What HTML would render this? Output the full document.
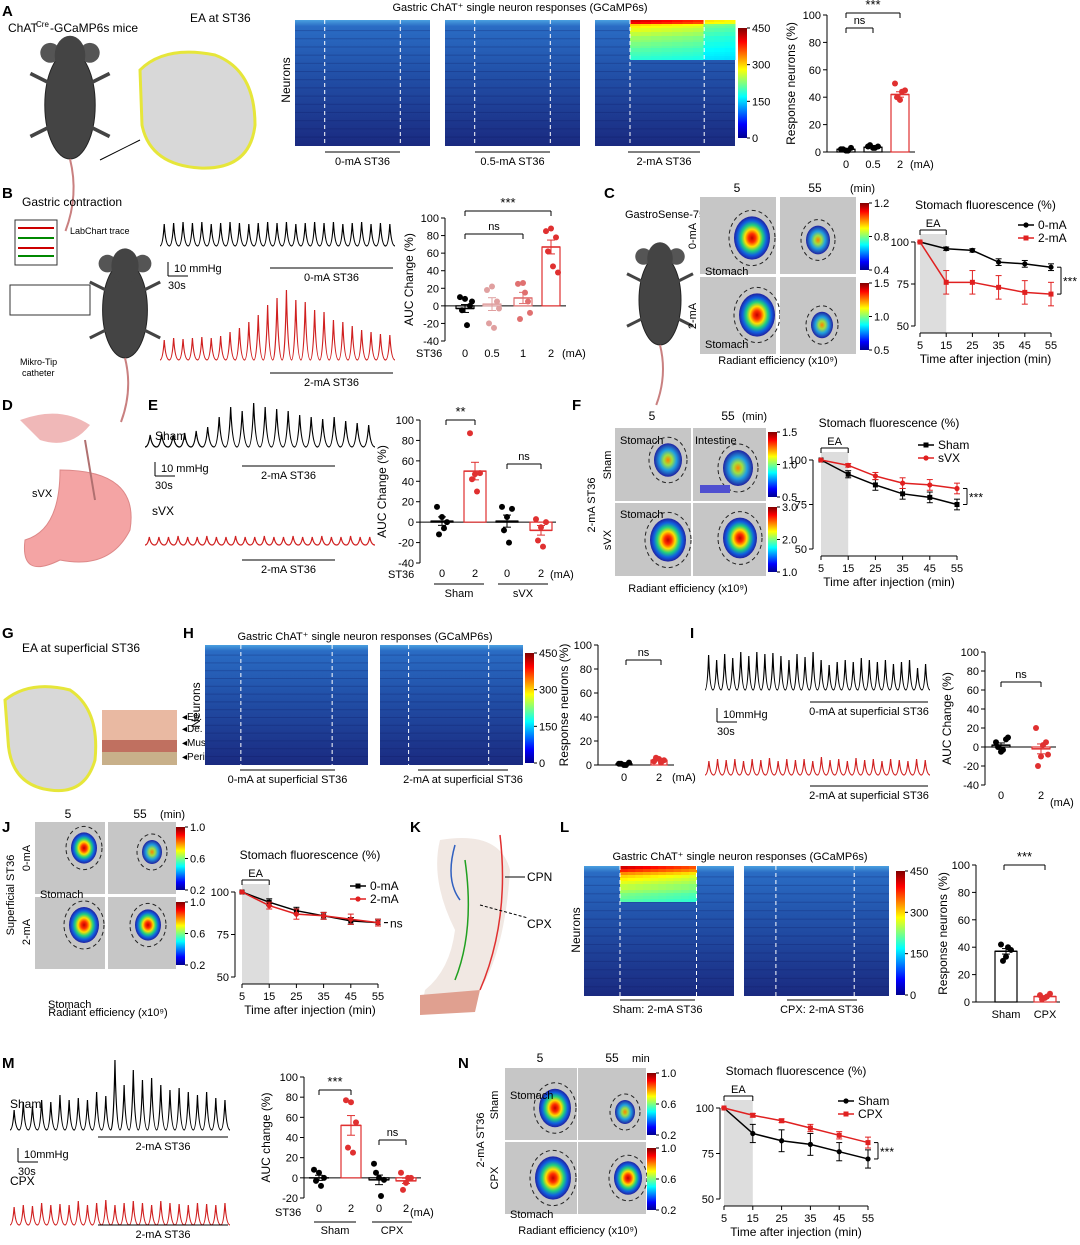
<!DOCTYPE html>
<html><head><meta charset="utf-8">
<style>
html,body{margin:0;padding:0;background:#fff;}
svg{display:block;font-family:"Liberation Sans",sans-serif;}
</style></head>
<body>
<svg id="fig" width="1080" height="1245" viewBox="0 0 1080 1245" xmlns="http://www.w3.org/2000/svg">
<defs>
<linearGradient id="hg" x1="0" y1="0" x2="0" y2="1">
<stop offset="0" stop-color="#4aa0e0"/><stop offset="0.05" stop-color="#2a6cc4"/><stop offset="0.4" stop-color="#2252aa"/><stop offset="1" stop-color="#1a2a80"/>
</linearGradient>
<linearGradient id="cb" x1="0" y1="1" x2="0" y2="0">
<stop offset="0" stop-color="#00008f"/><stop offset="0.125" stop-color="#0000ff"/><stop offset="0.375" stop-color="#00ffff"/><stop offset="0.625" stop-color="#ffff00"/><stop offset="0.875" stop-color="#ff0000"/><stop offset="1" stop-color="#800000"/>
</linearGradient>
<radialGradient id="blob">
<stop offset="0" stop-color="#c00000"/><stop offset="0.2" stop-color="#ff3000"/><stop offset="0.4" stop-color="#ffe000"/><stop offset="0.6" stop-color="#20d080"/><stop offset="0.8" stop-color="#1060e0"/><stop offset="1" stop-color="#2020a0"/>
</radialGradient>
<radialGradient id="blobs">
<stop offset="0" stop-color="#ff8000"/><stop offset="0.3" stop-color="#a0e040"/><stop offset="0.6" stop-color="#20a0e0"/><stop offset="1" stop-color="#2020a0"/>
</radialGradient>
</defs>
</svg>
<script>
// ===== DATA =====
const aCats=['0','0.5','2'];
const aMeans=[2,3.5,42];
const aPts=[[2,1,3,2,1],[4,3,4,5,3],[50,38,45,40,44]];
const bCats=['0','0.5','1','2'];
const bMeans=[-3,2,9,67];
const bPts=[[10,8,0,-5,-22,5],[18,22,5,-20,-25,-3],[25,26,5,-15,15,-8],[85,88,78,62,45,38]];
const cTimes=[5,15,25,35,45,55];
const c0mA=[100,96,95,88,87,85];
const c0err=[0,1,1,2,2,2];
const c2mA=[100,76,76,73,70,69];
const c2err=[0,7,7,7,7,7];
const eCats=['0','2','0','2'];
const eMeans=[1,50,1,-8];
const ePts=[[15,5,0,-12,-6],[87,47,48,42,30],[15,5,13,-8,-20],[3,-5,0,-18,-24]];
const fSham=[100,92,86,81,79,75];
const fShamErr=[0,2,3,3,3,3];
const fSvx=[100,97,91,87,86,84];
const fSvxErr=[0,1,2,3,3,3];
const hCats=['0','2'];
const hMeans=[1,4];
const hPts=[[1,0,2,1,0],[3,5,4,6,2]];
const iCats=['0','2'];
const iMeans=[2,-2];
const iPts=[[5,-5,8,0,-3,10],[20,-10,5,-20,2,-8]];
const jA=[100,94,89,86,83,82];
const jAerr=[0,2,2,2,2,2];
const jB=[100,92,87,86,84,82];
const jBerr=[0,2,3,2,3,2];
const lCats=['Sham','CPX'];
const lMeans=[37,4];
const lPts=[[42,33,38,30,40],[5,3,6,2,4]];
const mCats=['0','2','0','2'];
const mMeans=[0,52,-2,-3];
const mPts=[[8,5,0,-3,-8],[77,75,55,30,25],[14,0,-2,5,-18],[5,-5,0,-12,0]];
const nSham=[100,86,82,80,76,72];
const nShamErr=[0,5,6,6,5,5];
const nCpx=[100,96,93,89,85,81];
const nCpxErr=[0,1,1,2,2,3];
const actA=[0.95,0.9,0.6,0.55,0.5,0.5,0.45,0.45,0.4,0.4,0.38,0.35,0.35,0.33,0.3,0.3,0.28,0.27,0.25,0.24];
const actL=[0.95,0.85,0.7,0.6,0.55,0.5,0.45,0.45,0.4,0.35,0.33,0.3];
const trB1=[22,23,24,23,24,22,23,24,23,22,23,24,23,24,22,23,24,23,24,22,23,24,22,23,22];
const trB2=[20,22,21,22,23,22,24,28,32,38,45,55,62,70,60,58,50,48,40,38,34,30,28,26,25];
const trE1=[12,13,12,14,16,20,30,40,36,44,40,38,36,32,30,28,30,26,24,22];
const trE2=[8,8,8,9,8,8,9,8,8,9,8,8,9,8,8,9,8,8,9,8,8,9,8,8];
const trI1=[35,30,36,32,38,34,38,36,37,34,30,36,33,38,30,25,28,30,28,32,30,28,30,26,28,30,22,26];
const trI2=[14,16,15,16,14,16,15,17,14,16,15,16,14,18,15,16,14,17,15,16,14,16,15,14,16,15];
const trM1=[20,28,24,30,28,35,30,32,30,38,34,70,45,60,50,52,45,40,42,38,35,38,32,30];
const trM2=[18,20,19,22,20,21,20,24,20,22,25,20,22,24,22,20,24,22,21,20,22,21,20,22];

// ===== HELPERS =====
const NS='http://www.w3.org/2000/svg';
const S=document.getElementById('fig');
function E(tag,a,name,parent){
 const el=document.createElementNS(NS,tag);
 for(const k in a) el.setAttribute(k,a[k]);
 
 
 (parent||S).appendChild(el);return el;}
function T(x,y,s,o){o=o||{};
 const el=E('text',{x:x,y:y,'font-size':o.size||11,'text-anchor':o.anchor||'start','font-weight':o.bold?'bold':'normal',fill:o.fill||'#000',transform:o.rot?`rotate(${o.rot} ${x} ${y})`:''},o.name||'label');
 el.textContent=s;return el;}
function L(x1,y1,x2,y2,o){o=o||{};return E('line',{x1:x1,y1:y1,x2:x2,y2:y2,stroke:o.c||'#000','stroke-width':o.w||1,'stroke-dasharray':o.dash||''},o.name||'line');}
function R(x,y,w,h,f,o){o=o||{};return E('rect',{x:x,y:y,width:w,height:h,fill:f,stroke:o.s||'none','stroke-width':o.w||1,rx:o.rx||0},o.name||'rect');}
function jet(t){t=Math.max(0,Math.min(1,t));
 const r=Math.min(1,Math.max(0,1.5-Math.abs(4*t-3))),g=Math.min(1,Math.max(0,1.5-Math.abs(4*t-2))),b=Math.min(1,Math.max(0,1.5-Math.abs(4*t-1)));
 return `rgb(${r*255|0},${g*255|0},${b*255|0})`;}

function heat(x,y,w,h,act,s0,s1,name,fade,rh){
 R(x,y,w,h,'url(#hg)',{name:name});
 for(let i=0;i<14;i++) R(x,y+h*(0.08+i*0.065),w,1,'rgba(10,20,90,0.25)',{name:'heatmap-row'});
 if(act){rh=rh||3;
  act.forEach((v,i)=>{const x0=x+w*s0,x1=x+w*(fade?s1:1);
   const seg=10;for(let k=0;k<seg;k++){let vv=v*(fade?1:(k<7?1:0.7))*(1-k*0.02);
    R(x0+(x1-x0)*k/seg,y+i*rh,(x1-x0)/seg+0.5,rh,jet(0.25+vv*0.7),{name:'heatmap-cell'});}});}
 L(x+w*s0,y,x+w*s0,y+h,{c:'#fff',dash:'4,3',name:'stim-onset-line'});
 L(x+w*s1,y,x+w*s1,y+h,{c:'#fff',dash:'4,3',name:'stim-offset-line'});
}
function cbar(x,y,h,labels,name){R(x,y,9,h,'url(#cb)',{name:name});
 labels.forEach((l,i)=>{const yy=y+h*i/(labels.length-1);L(x+9,yy,x+12,yy,{name:'colorbar-tick'});T(x+14,yy+4,l,{size:11,name:'colorbar-label'});});}

function barChart(c){
 const ys=v=>c.yBot-(v-c.min)/(c.max-c.min)*(c.yBot-c.yTop);
 L(c.x,c.yTop,c.x,c.yBot,{name:'y-axis'});
 c.ticks.forEach(t=>{L(c.x-4,ys(t),c.x,ys(t),{name:'y-tick'});T(c.x-6,ys(t)+4,String(t),{size:11,anchor:'end',name:'y-tick-label'});});
 const z=ys(Math.max(0,c.min));
 L(c.x,z,c.x+c.xs[c.xs.length-1]+15,z,{name:'x-axis'});
 T(c.x-c.ylabOff,(c.yTop+c.yBot)/2,c.ylab,{size:12,anchor:'middle',rot:-90,name:'y-axis-title'});
 c.means.forEach((m,i)=>{const cx=c.x+c.xs[i],bw=c.bw||16;const col=c.colors[i];
  const y1=Math.min(ys(m),z),hh=Math.abs(ys(m)-z);
  R(cx-bw/2,y1,bw,hh,'#fff',{s:col,w:1.2,name:'bar-'+i});
  const pts=c.pts[i];const sd=Math.sqrt(pts.reduce((a,p)=>a+(p-m)*(p-m),0)/pts.length)/Math.sqrt(pts.length);
  L(cx,ys(m+sd),cx,ys(m-sd),{c:col,name:'error-bar'});L(cx-4,ys(m+sd),cx+4,ys(m+sd),{c:col,name:'error-cap'});L(cx-4,ys(m-sd),cx+4,ys(m-sd),{c:col,name:'error-cap'});
  L(cx-bw/2,ys(m),cx+bw/2,ys(m),{c:col,w:1.5,name:'mean-line'});
  pts.forEach((p,k)=>{const off=((k%3)-1)*5+(k>2?2:0);E('circle',{cx:cx+off,cy:ys(p),r:3,fill:col},'data-point');});
  T(cx,ys(c.min)+(c.catOff||16),c.cats[i],{size:11,anchor:'middle',name:'x-tick-label'});
 });
 return ys;}

function lineChart(c){
 const xs=t=>c.xL+(t-5)/50*(c.xR-c.xL),ys=v=>c.yBot-(v-50)/50*(c.yBot-c.yTop);
 const xa=c.yBot+7;
 R(xs(5),ys(100)-8,xs(15)-xs(5),xa-ys(100)+8,'#ddd',{name:'ea-shading'});
 L(c.ax,ys(100),c.ax,c.yBot,{name:'y-axis'});L(xs(5),xa,c.xR,xa,{name:'x-axis'});
 [50,75,100].forEach(t=>{L(c.ax-4,ys(t),c.ax,ys(t),{name:'y-tick'});T(c.ax-6,ys(t)+4,String(t),{size:11,anchor:'end',name:'y-tick-label'});});
 cTimes.forEach(t=>{L(xs(t),xa,xs(t),xa+4,{name:'x-tick'});T(xs(t),xa+16,String(t),{size:11,anchor:'middle',name:'x-tick-label'});});
 T((c.xL+c.xR)/2,xa+30,'Time after injection (min)',{size:12,anchor:'middle',name:'x-axis-title'});
 T((c.xL+c.xR)/2,c.yTop-33,c.title,{size:12,anchor:'middle',name:'chart-title'});
 const by=ys(100)-12;
 L(xs(5),by,xs(15),by,{name:'ea-bracket'});L(xs(5),by,xs(5),by+5,{name:'ea-bracket'});L(xs(15),by,xs(15),by+5,{name:'ea-bracket'});
 T((xs(5)+xs(15))/2,by-3,'EA',{size:11,anchor:'middle',name:'ea-label'});
 c.series.forEach((s,si)=>{
  E('polyline',{points:s.v.map((v,i)=>xs(cTimes[i])+','+ys(v)).join(' '),fill:'none',stroke:s.c,'stroke-width':1.5},'series-line-'+si);
  s.v.forEach((v,i)=>{const x=xs(cTimes[i]);L(x,ys(v+s.e[i]),x,ys(v-s.e[i]),{c:s.c,name:'error-bar'});L(x-3,ys(v+s.e[i]),x+3,ys(v+s.e[i]),{c:s.c,name:'error-cap'});L(x-3,ys(v-s.e[i]),x+3,ys(v-s.e[i]),{c:s.c,name:'error-cap'});
   if(s.sq)R(x-2.5,ys(v)-2.5,5,5,s.c,{name:'data-point'});else E('circle',{cx:x,cy:ys(v),r:2.6,fill:s.c},'data-point');});
  const lx=c.legX,ly=c.legY+si*13;L(lx,ly,lx+16,ly,{c:s.c,w:1.5,name:'legend-line'});
  if(s.sq)R(lx+5.5,ly-2.5,5,5,s.c,{name:'legend-marker'});else E('circle',{cx:lx+8,cy:ly,r:2.6,fill:s.c},'legend-marker');
  T(lx+20,ly+4,s.n,{size:12,name:'legend-entry'});
 });
 if(c.sig){const a=ys(c.series[0].v[5]),b=ys(c.series[1].v[5]);const x=c.xR+6;
  L(x,a,x+4,a,{name:'sig-bracket'});L(x+4,a,x+4,b,{name:'sig-bracket'});L(x,b,x+4,b,{name:'sig-bracket'});
  T(x+6,(a+b)/2+5,c.sig,{size:12,name:'significance-label'});}
 return {xs,ys};}

function trace(x,y,w,amps,col,name){let d='';const n=amps.length,p=w/n;
 amps.forEach((a,i)=>{const x0=x+i*p;d+=(i?'L':'M')+x0+','+y+' Q'+(x0+p*0.3)+','+y+' '+(x0+p*0.45)+','+(y-a)+' Q'+(x0+p*0.6)+','+y+' '+(x0+p)+','+y+' ';});
 E('path',{d:d,fill:'none',stroke:col,'stroke-width':1.2},name);}
function stimBar(x1,x2,y,label){L(x1,y,x2,y,{name:'stim-bar'});T((x1+x2)/2,y+13,label,{size:11,anchor:'middle',name:'stim-label'});}
function scaleBar(x,y,lab1,lab2){L(x,y,x,y-14,{name:'scale-bar-v'});L(x,y,x+20,y,{name:'scale-bar-h'});T(x+6,y-4,lab1,{size:11,name:'scale-label'});T(x,y+13,lab2,{size:11,name:'scale-label'});}
function sig(x1,x2,y,txt){L(x1,y,x2,y,{name:'sig-bracket'});L(x1,y,x1,y+5,{name:'sig-bracket'});L(x2,y,x2,y+5,{name:'sig-bracket'});T((x1+x2)/2,y-4,txt,{size:txt==='ns'?11:13,anchor:'middle',name:'significance-label'});}
function mouse(cx,cy,s,name){
 E('ellipse',{cx:cx,cy:cy,rx:28*s,ry:60*s,fill:'#444',stroke:'#222'},name);
 E('circle',{cx:cx-22*s,cy:cy-58*s,r:11*s,fill:'#555'},'mouse-ear');E('circle',{cx:cx+22*s,cy:cy-58*s,r:11*s,fill:'#555'},'mouse-ear');
 E('ellipse',{cx:cx,cy:cy-55*s,rx:17*s,ry:22*s,fill:'#444'},'mouse-head');
 E('path',{d:`M${cx},${cy+60*s} q${10*s},${40*s} ${-5*s},${80*s}`,stroke:'#c98080','stroke-width':2,fill:'none'},'mouse-tail');
 [[-1,-1],[1,-1],[-1,1],[1,1]].forEach(([a,b])=>L(cx+a*24*s,cy+b*25*s,cx+a*44*s,cy+b*35*s,{c:'#444',w:4*s,name:'mouse-limb'}));}
function img(x,y,w,h,bx,by,r,g,name){R(x,y,w,h,'#bdbdbd',{name:name});R(x,y,w,h,'rgba(255,255,255,0.15)',{name:'image-overlay'});
 E('ellipse',{cx:bx,cy:by,rx:r,ry:r*1.2,fill:'url(#'+(g||'blob')+')'},'fluorescence-signal');
 E('ellipse',{cx:bx,cy:by,rx:r+5,ry:r*1.2+6,fill:'none',stroke:'#222','stroke-dasharray':'4,3'},'roi-outline');}
function P(x,y,l){T(x,y,l,{size:15,bold:true,name:'panel-label-'+l});}

// ===== PANEL A =====
P(2,16,'A');T(8,32,'ChAT',{size:12,name:'mouse-label'});T(36,27,'Cre',{size:8,name:'mouse-label-sup'});T(50,32,'-GCaMP6s mice',{size:12,name:'mouse-label'});
mouse(70,105,0.9,'mouse-illustration-a');
E('path',{d:'M140,70 Q165,45 215,55 Q255,70 255,125 Q250,170 200,168 Q150,165 142,125 Z',fill:'#d8d8d8',stroke:'#e6e63a','stroke-width':3},'leg-diagram-a');
T(190,22,'EA at ST36',{size:12,name:'ea-label'});L(100,160,140,140,{name:'arrow'});
T(520,11,'Gastric ChAT⁺ single neuron responses (GCaMP6s)',{size:11,anchor:'middle',name:'heatmap-title'});
heat(295,20,135,126,null,0.22,0.78,'heatmap-0ma');heat(445,20,135,126,null,0.22,0.78,'heatmap-05ma');heat(595,20,140,126,actA,0.25,0.78,'heatmap-2ma',false,2);
T(290,80,'Neurons',{size:12,anchor:'middle',rot:-90,name:'heatmap-y-label'});
stimBar(325,400,152,'0-mA ST36');stimBar(475,550,152,'0.5-mA ST36');stimBar(628,700,152,'2-mA ST36');
cbar(738,28,110,['450','300','150','0'],'colorbar-a');
barChart({x:827,yTop:15,yBot:152,min:0,max:100,ticks:[0,20,40,60,80,100],xs:[19,46,73],means:aMeans,pts:aPts,cats:aCats,colors:['#000','#000','#e03030'],ylab:'Response neurons (%)',ylabOff:32,bw:18});
T(910,168,'(mA)',{size:11,name:'unit-label'});sig(846,873,28,'ns');sig(846,900,13,'***');

// ===== PANEL B =====
P(2,198,'B');T(22,206,'Gastric contraction',{size:12,name:'setup-label'});
R(15,220,42,45,'#fff',{s:'#333',name:'monitor'});[228,238,248,256].forEach((y,i)=>L(18,y,54,y,{c:['#c00','#080','#c00','#080'][i],w:2,name:'monitor-trace'}));
T(70,234,'LabChart trace',{size:9,name:'labchart-label'});R(10,285,80,30,'#fff',{s:'#333',name:'amplifier'});
mouse(125,310,0.8,'mouse-illustration-b');T(20,365,'Mikro-Tip',{size:9,name:'catheter-label'});T(22,376,'catheter',{size:9,name:'catheter-label'});
trace(160,246,235,trB1,'#000','trace-0ma');stimBar(270,393,268,'0-mA ST36');
scaleBar(168,276,'10 mmHg','30s');
trace(160,360,235,trB2,'#d02020','trace-2ma');stimBar(270,393,373,'2-mA ST36');
barChart({x:445,yTop:218,yBot:341,min:-40,max:100,ticks:[-40,-20,0,20,40,60,80,100],xs:[20,47,78,106],means:bMeans,pts:bPts,cats:bCats,colors:['#000','#e0a0a0','#e07070','#e03030'],ylab:'AUC Change (%)',ylabOff:32,bw:18,catOff:16});
T(416,357,'ST36',{size:11,name:'st36-label'});T(562,357,'(mA)',{size:11,name:'unit-label'});sig(465,523,234,'ns');sig(465,551,211,'***');

// ===== PANEL C =====
P(604,198,'C');T(625,218,'GastroSense-750',{size:11,name:'probe-label'});
mouse(660,300,0.75,'mouse-illustration-c');
T(737,192,'5',{size:12,anchor:'middle',name:'time-label'});T(815,192,'55',{size:12,anchor:'middle',name:'time-label'});T(850,192,'(min)',{size:11,name:'unit-label'});
img(700,197,76,77,752,238,18,'blob','image-0ma-5');img(780,197,76,77,818,240,12,'blobs','image-0ma-55');
img(700,277,76,77,757,315,18,'blob','image-2ma-5');img(780,277,76,77,822,325,11,'blobs','image-2ma-55');
T(696,236,'0-mA',{size:11,anchor:'middle',rot:-90,name:'row-label'});T(696,316,'2-mA',{size:11,anchor:'middle',rot:-90,name:'row-label'});
T(705,275,'Stomach',{size:11,name:'stomach-label'});T(705,348,'Stomach',{size:11,name:'stomach-label'});
cbar(860,203,67,['1.2','0.8','0.4'],'colorbar-c1');cbar(860,283,67,['1.5','1.0','0.5'],'colorbar-c2');
T(778,364,'Radiant efficiency (x10⁹)',{size:11,anchor:'middle',name:'radiant-label'});
lineChart({ax:915,xL:920,xR:1051,yTop:242,yBot:326,title:'Stomach fluorescence (%)',series:[{v:c0mA,e:c0err,c:'#000',n:'0-mA'},{v:c2mA,e:c2err,c:'#e02020',n:'2-mA',sq:true}],legX:1018,legY:225,sig:'***'});

// ===== PANEL D/E =====
P(2,410,'D');
E('path',{d:'M20,420 Q60,405 90,425 Q70,450 40,440 Z',fill:'#f0b8b8'},'brain');
E('path',{d:'M60,470 Q140,470 130,530 Q110,570 60,560 Q20,580 25,540 Q60,530 60,470 Z',fill:'#f4a4a4',stroke:'#d88'},'stomach');
L(85,440,95,500,{c:'#b07070',w:2,name:'vagus-nerve'});T(32,497,'sVX',{size:11,name:'svx-label'});
P(148,410,'E');T(155,440,'Sham',{size:12,name:'sham-label'});trace(145,447,230,trE1,'#000','trace-sham');stimBar(242,335,466,'2-mA ST36');
scaleBar(155,476,'10 mmHg','30s');T(152,515,'sVX',{size:12,name:'svx-trace-label'});trace(145,545,230,trE2,'#d02020','trace-svx');stimBar(242,335,560,'2-mA ST36');
barChart({x:420,yTop:420,yBot:563,min:-40,max:100,ticks:[-40,-20,0,20,40,60,80,100],xs:[22,55,87,121],means:eMeans,pts:ePts,cats:eCats,colors:['#000','#e03030','#000','#e03030'],ylab:'AUC Change (%)',ylabOff:34,bw:22,catOff:14});
T(388,578,'ST36',{size:11,name:'st36-label'});T(550,578,'(mA)',{size:11,name:'unit-label'});
L(434,584,484,584,{name:'group-line'});T(459,597,'Sham',{size:11,anchor:'middle',name:'group-label'});L(498,584,548,584,{name:'group-line'});T(523,597,'sVX',{size:11,anchor:'middle',name:'group-label'});
sig(446,475,420,'**');sig(507,541,464,'ns');

// ===== PANEL F =====
P(572,410,'F');T(652,420,'5',{size:12,anchor:'middle',name:'time-label'});T(728,420,'55',{size:12,anchor:'middle',name:'time-label'});T(742,420,'(min)',{size:11,name:'unit-label'});
img(615,428,76,73,668,460,14,'blobs','image-sham-5');img(693,428,73,73,738,468,15,'blobs','image-sham-55');
R(700,485,30,8,'#5050d0',{name:'intestine-signal'});
img(615,503,76,73,668,540,18,'blob','image-svx-5');img(693,503,73,73,740,538,17,'blob','image-svx-55');
T(620,444,'Stomach',{size:11,name:'stomach-label'});T(695,444,'Intestine',{size:11,name:'intestine-label'});T(620,518,'Stomach',{size:11,name:'stomach-label'});
T(611,465,'Sham',{size:11,anchor:'middle',rot:-90,name:'row-label'});T(611,540,'sVX',{size:11,anchor:'middle',rot:-90,name:'row-label'});
T(595,505,'2-mA ST36',{size:11,anchor:'middle',rot:-90,name:'group-label'});
cbar(768,432,65,['1.5','1.0','0.5'],'colorbar-f1');cbar(768,507,65,['3.0','2.0','1.0'],'colorbar-f2');
T(688,592,'Radiant efficiency (x10⁹)',{size:11,anchor:'middle',name:'radiant-label'});
lineChart({ax:813,xL:821,xR:957,yTop:460,yBot:549,title:'Stomach fluorescence (%)',series:[{v:fSham,e:fShamErr,c:'#000',n:'Sham',sq:true},{v:fSvx,e:fSvxErr,c:'#e02020',n:'sVX'}],legX:918,legY:445,sig:'***'});

// ===== PANEL G/H =====
P(2,638,'G');T(22,652,'EA at superficial ST36',{size:12,name:'ea-label'});
E('path',{d:'M5,700 Q30,680 70,690 Q100,710 95,760 Q85,795 50,790 Q10,785 8,740 Z',fill:'#d8d8d8',stroke:'#e6e63a','stroke-width':3},'leg-diagram-g');
R(102,710,75,55,'#e9b9a2',{name:'skin-diagram'});R(102,740,75,12,'#c07060',{name:'muscle-layer'});R(102,752,75,13,'#c8b08a',{name:'periosteum-layer'});
[['Ep.',720],['De.',732],['Mus.',746],['Perios.',760]].forEach(a=>T(182,a[1],'◂'+a[0],{size:10,name:'layer-label'}));
P(183,638,'H');T(365,640,'Gastric ChAT⁺ single neuron responses (GCaMP6s)',{size:11,anchor:'middle',name:'heatmap-title'});
heat(205,645,163,120,null,0.22,0.78,'heatmap-0ma-sup');heat(380,645,143,120,null,0.2,0.76,'heatmap-2ma-sup');
T(200,705,'Neurons',{size:12,anchor:'middle',rot:-90,name:'heatmap-y-label'});
stimBar(240,335,770,'0-mA at superficial ST36');stimBar(418,508,770,'2-mA at superficial ST36');
cbar(525,653,110,['450','300','150','0'],'colorbar-h');
barChart({x:598,yTop:645,yBot:765,min:0,max:100,ticks:[0,20,40,60,80,100],xs:[26,61],means:hMeans,pts:hPts,cats:hCats,colors:['#000','#e03030'],ylab:'Response neurons (%)',ylabOff:30,bw:16});
T(672,781,'(mA)',{size:11,name:'unit-label'});sig(626,661,660,'ns');

// ===== PANEL I =====
P(690,638,'I');trace(705,690,225,trI1,'#000','trace-0ma-sup');stimBar(810,928,702,'0-mA at superficial ST36');
scaleBar(717,722,'10mmHg','30s');trace(705,775,225,trI2,'#d02020','trace-2ma-sup');stimBar(810,928,786,'2-mA at superficial ST36');
barChart({x:985,yTop:652,yBot:785,min:-40,max:100,ticks:[-40,-20,0,20,40,60,80,100],xs:[16,56],means:iMeans,pts:iPts,cats:iCats,colors:['#000','#e03030'],ylab:'AUC Change (%)',ylabOff:34,bw:18,catOff:14});
T(1050,806,'(mA)',{size:11,name:'unit-label'});sig(1001,1041,682,'ns');

// ===== PANEL J =====
P(2,832,'J');T(68,818,'5',{size:12,anchor:'middle',name:'time-label'});T(140,818,'55',{size:12,anchor:'middle',name:'time-label'});T(160,818,'(min)',{size:11,name:'unit-label'});
img(35,822,70,72,84,848,13,'blob','image-0ma-sup-5');img(108,822,68,72,152,852,10,'blobs','image-0ma-sup-55');
img(35,897,70,72,84,925,15,'blob','image-2ma-sup-5');img(108,897,68,72,148,925,13,'blob','image-2ma-sup-55');
T(40,898,'Stomach',{size:11,name:'stomach-label'});T(48,1008,'Stomach',{size:11,name:'stomach-label'});
T(30,858,'0-mA',{size:11,anchor:'middle',rot:-90,name:'row-label'});T(30,932,'2-mA',{size:11,anchor:'middle',rot:-90,name:'row-label'});
T(14,895,'Superficial ST36',{size:11,anchor:'middle',rot:-90,name:'group-label'});
cbar(176,827,63,['1.0','0.6','0.2'],'colorbar-j1');cbar(176,902,63,['1.0','0.6','0.2'],'colorbar-j2');
T(108,1016,'Radiant efficiency (x10⁹)',{size:11,anchor:'middle',name:'radiant-label'});
lineChart({ax:235,xL:242,xR:378,yTop:892,yBot:977,title:'Stomach fluorescence (%)',series:[{v:jA,e:jAerr,c:'#000',n:'0-mA',sq:true},{v:jB,e:jBerr,c:'#e02020',n:'2-mA'}],legX:350,legY:886,sig:'ns'});

// ===== PANEL K =====
P(410,832,'K');
E('path',{d:'M440,840 Q500,830 510,870 Q505,950 480,990 Q455,1010 420,1015 L425,990 Q450,970 455,930 Q430,880 440,840 Z',fill:'#f1e8e3'},'arm-diagram');
E('path',{d:'M420,995 L480,990 L475,1012 L420,1015 Z',fill:'#e0a090'},'forearm');
E('path',{d:'M500,835 Q510,920 480,990',stroke:'#e03030',fill:'none','stroke-width':1.5},'nerve-red');
E('path',{d:'M465,860 Q475,930 455,980',stroke:'#20a020',fill:'none','stroke-width':1.5},'nerve-green');
E('path',{d:'M455,845 Q445,880 460,900',stroke:'#3060c0',fill:'none','stroke-width':1.5},'nerve-blue');
L(505,877,525,877,{name:'arrow'});T(527,881,'CPN',{size:12,name:'cpn-label'});L(480,905,528,918,{dash:'3,2',name:'arrow'});T(527,928,'CPX',{size:12,name:'cpx-label'});

// ===== PANEL L =====
P(560,832,'L');T(740,860,'Gastric ChAT⁺ single neuron responses (GCaMP6s)',{size:11,anchor:'middle',name:'heatmap-title'});
heat(584,866,150,130,actL,0.24,0.75,'heatmap-sham',true,3);heat(744,866,145,130,null,0.22,0.76,'heatmap-cpx');
T(580,930,'Neurons',{size:12,anchor:'middle',rot:-90,name:'heatmap-y-label'});
stimBar(620,695,1000,'Sham: 2-mA ST36');stimBar(787,857,1000,'CPX: 2-mA ST36');
cbar(896,871,124,['450','300','150','0'],'colorbar-l');
barChart({x:976,yTop:865,yBot:1002,min:0,max:100,ticks:[0,20,40,60,80,100],xs:[30,69],means:lMeans,pts:lPts,cats:lCats,colors:['#000','#e03030'],ylab:'Response neurons (%)',ylabOff:29,bw:22});
sig(1004,1045,865,'***');

// ===== PANEL M =====
P(2,1068,'M');T(10,1108,'Sham',{size:12,name:'sham-label'});trace(10,1130,220,trM1,'#000','trace-sham-m');stimBar(98,228,1137,'2-mA ST36');
scaleBar(18,1162,'10mmHg','30s');T(10,1185,'CPX',{size:12,name:'cpx-trace-label'});trace(10,1225,220,trM2,'#d02020','trace-cpx');stimBar(98,228,1225,'2-mA ST36');
barChart({x:304,yTop:1077,yBot:1198,min:-20,max:100,ticks:[-20,0,20,40,60,80,100],xs:[15,47,75,102],means:mMeans,pts:mPts,cats:mCats,colors:['#000','#e03030','#000','#e03030'],ylab:'AUC change (%)',ylabOff:34,bw:20,catOff:14});
T(275,1216,'ST36',{size:11,name:'st36-label'});T(410,1216,'(mA)',{size:11,name:'unit-label'});
L(314,1222,356,1222,{name:'group-line'});T(335,1234,'Sham',{size:11,anchor:'middle',name:'group-label'});L(372,1222,412,1222,{name:'group-line'});T(392,1234,'CPX',{size:11,anchor:'middle',name:'group-label'});
sig(319,351,1090,'***');sig(379,406,1140,'ns');

// ===== PANEL N =====
P(458,1068,'N');T(540,1062,'5',{size:12,anchor:'middle',name:'time-label'});T(612,1062,'55',{size:12,anchor:'middle',name:'time-label'});T(632,1062,'min',{size:11,name:'unit-label'});
img(505,1068,72,72,555,1108,16,'blob','image-sham-n-5');img(578,1068,68,72,625,1112,10,'blobs','image-sham-n-55');
img(505,1142,72,72,553,1178,18,'blob','image-cpx-n-5');img(578,1142,68,72,628,1178,14,'blob','image-cpx-n-55');
T(510,1099,'Stomach',{size:11,name:'stomach-label'});T(510,1218,'Stomach',{size:11,name:'stomach-label'});
T(498,1105,'Sham',{size:11,anchor:'middle',rot:-90,name:'row-label'});T(498,1178,'CPX',{size:11,anchor:'middle',rot:-90,name:'row-label'});
T(484,1140,'2-mA ST36',{size:11,anchor:'middle',rot:-90,name:'group-label'});
cbar(647,1073,62,['1.0','0.6','0.2'],'colorbar-n1');cbar(647,1148,62,['1.0','0.6','0.2'],'colorbar-n2');
T(578,1234,'Radiant efficiency (x10⁹)',{size:11,anchor:'middle',name:'radiant-label'});
lineChart({ax:720,xL:724,xR:868,yTop:1108,yBot:1199,title:'Stomach fluorescence (%)',series:[{v:nSham,e:nShamErr,c:'#000',n:'Sham'},{v:nCpx,e:nCpxErr,c:'#e02020',n:'CPX',sq:true}],legX:838,legY:1101,sig:'***'});
</script>
</body></html>
